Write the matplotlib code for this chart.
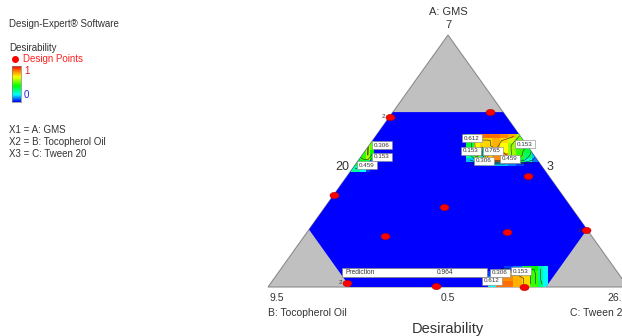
import numpy as np
import matplotlib.pyplot as plt
from matplotlib.colors import LinearSegmentedColormap
from matplotlib.patches import Polygon, Rectangle
from matplotlib.lines import Line2D
from matplotlib.path import Path

plt.rcParams['font.family'] = ['Liberation Sans', 'DejaVu Sans']

W, H = 622, 336
TXT = '#333333'

# upper limits of the pseudo-components (fraction of simplex)
a_max, b_max, c_max = 0.694, 0.772, 0.772

# design points, fractions of A (GMS) and C (Tween 20); B is the rest
pts_a = [0.675, 0.694, 0.440, 0.365, 0.317, 0.202, 0.218, 0.226, 0.016, 0.004, 0.0]
pts_c = [0.0, 0.270, 0.502, 0.0, 0.330, 0.224, 0.555, 0.770, 0.211, 0.465, 0.711]
pts_b = [1 - a - c for a, c in zip(pts_a, pts_c)]
replicated = [0, 7, 8]

# axis labels (actual amounts)
top_label, top_value = 'A: GMS', '7'
left_label, left_value = 'B: Tocopherol Oil', '9.5'
right_label, right_value = 'C: Tween 20', '26.5'
mid_value = '0.5'
side_left, side_right = '20', '3'

# desirability patches: x edges along base, A edges (top to bottom), values
ul_x = [0.228, 0.256, 0.272, 0.283, 0.294]
ul_a = [0.579, 0.544, 0.504, 0.480, 0.456]
ul_d = [[0.45, 0.50, 0.62, 0.55],
        [0.45, 0.50, 0.62, 0.45],
        [0.42, 0.42, 0.35, 0.10],
        [0.30, 0.20, 0.05, 0.00]]

ur_x = [0.550, 0.572, 0.589, 0.600, 0.622, 0.644, 0.667, 0.689, 0.711, 0.733, 0.756]
ur_a = [0.607, 0.591, 0.571, 0.552, 0.532, 0.512, 0.496, 0.480]
ur_d = [[0.35, 0.85, 0.88, 0.88, 0.88, 0.85, 0.80, 0.60, 0.45, 0.30],
        [0.40, 0.70, 0.75, 0.75, 0.80, 0.75, 0.65, 0.55, 0.45, 0.30],
        [0.40, 0.70, 0.75, 0.75, 0.80, 0.70, 0.60, 0.55, 0.45, 0.25],
        [0.40, 0.65, 0.30, 0.75, 0.75, 0.70, 0.60, 0.50, 0.40, 0.20],
        [0.30, 0.55, 0.25, 0.75, 0.85, 0.85, 0.60, 0.50, 0.35, 0.15],
        [0.15, 0.30, 0.60, 0.85, 0.85, 0.75, 0.55, 0.40, 0.25, 0.10],
        [0.00, 0.05, 0.10, 0.15, 0.15, 0.15, 0.10, 0.05, 0.00, 0.00]]

br_x = [0.611, 0.633, 0.656, 0.681, 0.706, 0.728, 0.750, 0.764, 0.778]
br_a = [0.083, 0.063, 0.044, 0.024, 0.0]
br_d = [[0.00, 0.00, 0.05, 0.10, 0.40, 0.45, 0.30, 0.20],
        [0.05, 0.60, 0.70, 0.75, 0.75, 0.50, 0.30, 0.20],
        [0.10, 0.85, 0.85, 0.80, 0.75, 0.50, 0.30, 0.20],
        [0.20, 0.88, 0.88, 0.80, 0.75, 0.50, 0.35, 0.20]]

# contour labels: text, x, A
clabels = [('0.306', 0.317, 0.563), ('0.153', 0.317, 0.516), ('0.459', 0.275, 0.484),
           ('0.612', 0.567, 0.591), ('0.153', 0.714, 0.567), ('0.153', 0.564, 0.540),
           ('0.765', 0.625, 0.540), ('0.306', 0.600, 0.500), ('0.459', 0.672, 0.508),
           ('0.306', 0.644, 0.056), ('0.153', 0.703, 0.063), ('0.612', 0.622, 0.024)]
prediction = 0.964

cmap = LinearSegmentedColormap.from_list(
    'desir', [(0, '#0000ff'), (0.2, '#00ffff'), (0.45, '#00ff00'),
              (0.7, '#ffff00'), (0.85, '#ff8c00'), (1, '#ff0000')])


def xy(a, c):
    return c + a / 2, a


fig = plt.figure(figsize=(W / 100, H / 100), dpi=100)
ax = fig.add_axes([268 / W, 49 / H, 360 / W, 252 / H])
ax.set_xlim(0, 1)
ax.set_ylim(0, 1)
ax.axis('off')

# full simplex in gray, feasible hexagon in blue
ax.add_patch(Polygon([(0, 0), (1, 0), (0.5, 1)], closed=True, facecolor='#c0c0c0',
                     edgecolor='#8c8c8c', lw=0.8, clip_on=False))
hex_abc = [(a_max, 1 - a_max, 0), (a_max, 0, 1 - a_max), (1 - c_max, 0, c_max),
           (0, 1 - c_max, c_max), (0, b_max, 1 - b_max), (1 - b_max, b_max, 0)]
hexagon = Polygon([xy(a, c) for a, b, c in hex_abc], closed=True,
                  facecolor='#0000ff', edgecolor='none', clip_on=False)
ax.add_patch(hexagon)

for ex, ea, d in [(ul_x, ul_a, ul_d), (ur_x, ur_a, ur_d), (br_x, br_a, br_d)]:
    d = np.array(d)
    m = ax.pcolormesh(ex, ea, d, cmap=cmap, vmin=0, vmax=1, shading='flat')
    m.set_clip_path(hexagon)
    cx = (np.array(ex[:-1]) + np.array(ex[1:])) / 2
    ca = (np.array(ea[:-1]) + np.array(ea[1:])) / 2
    cs = ax.contour(cx, ca, d, levels=[0.05, 0.153, 0.306, 0.459, 0.612, 0.765],
                    colors='#202020', linewidths=0.4)
    cs.set_clip_path(hexagon)

for s, x, a in clabels:
    ax.text(x, a, s, fontsize=4.5, color=TXT, ha='center', va='center',
            bbox=dict(boxstyle='square,pad=0.3', fc='white', ec='#808080', lw=0.4))

# prediction flag
ax.add_patch(Rectangle((0.206, 0.040), 0.402, 0.035, facecolor='white',
                       edgecolor='#808080', lw=0.5))
ax.text(0.214, 0.058, 'Prediction', fontsize=4.8, color=TXT, va='center')
ax.text(0.469, 0.058, f'{prediction:.3f}', fontsize=4.8, color=TXT, va='center')

# design points
t = np.linspace(0, 2 * np.pi, 40)
ellipse = Path(np.column_stack([1.45 * np.cos(t), np.sin(t)]))
px, pa = xy(np.array(pts_a), np.array(pts_c))
ax.plot(px, pa, ls='none', marker=ellipse, ms=6.5, mfc='#ff0000', mec='#b00000',
        mew=0.4, clip_on=False)
for i in replicated:
    ax.text(px[i] - 0.012, pa[i], '2', fontsize=4.5, color=TXT, ha='right', va='center')

# vertex and side labels
ax.text(0.5, 1.09, top_label, fontsize=8, color=TXT, ha='center', va='center', clip_on=False)
ax.text(0.5, 1.04, top_value, fontsize=8, color=TXT, ha='center', va='center', clip_on=False)
ax.text(0.005, -0.045, left_value, fontsize=7.5, color=TXT, ha='left', va='center')
ax.text(0.5, -0.045, mid_value, fontsize=7.5, color=TXT, ha='center', va='center')
ax.text(1.0, -0.045, right_value, fontsize=7.5, color=TXT, ha='right', va='center')
ax.text(0.0, -0.103, left_label, fontsize=7.5, color=TXT, ha='left', va='center')
ax.text(1.0, -0.103, right_label, fontsize=7.5, color=TXT, ha='right', va='center')
ax.text(0.206, 0.476, side_left, fontsize=9, color=TXT, ha='center', va='center')
ax.text(0.783, 0.476, side_right, fontsize=9, color=TXT, ha='center', va='center')
ax.text(0.5, -0.167, 'Desirability', fontsize=10.5, color=TXT, ha='center', va='center')


def ftext(x, y, s, **kw):
    fig.text(x / W, 1 - y / H, s, va='center', fontsize=7, **kw)


ftext(9, 24, 'Design-Expert® Software', color=TXT)
ftext(9, 48, 'Desirability', color=TXT)
fig.add_artist(Line2D([15 / W], [1 - 59 / H], marker='o', ms=4, color='#ff0000',
                      transform=fig.transFigure))
ftext(23, 59, 'Design Points', color='#ff2020')
cax = fig.add_axes([12 / W, 1 - 102 / H, 9 / W, 36 / H])
cax.imshow(np.linspace(0, 1, 100)[:, None], aspect='auto', cmap=cmap, origin='lower')
cax.set_xticks([])
cax.set_yticks([])
for sp in cax.spines.values():
    sp.set_color('#808080')
    sp.set_linewidth(0.5)
ftext(24, 71, '1', color='#e02020')
ftext(24, 95, '0', color='#2020e0')
ftext(9, 130, 'X1 = A: GMS', color=TXT)
ftext(9, 142, 'X2 = B: Tocopherol Oil', color=TXT)
ftext(9, 154, 'X3 = C: Tween 20', color=TXT)

fig.savefig('out.png', dpi=100)
